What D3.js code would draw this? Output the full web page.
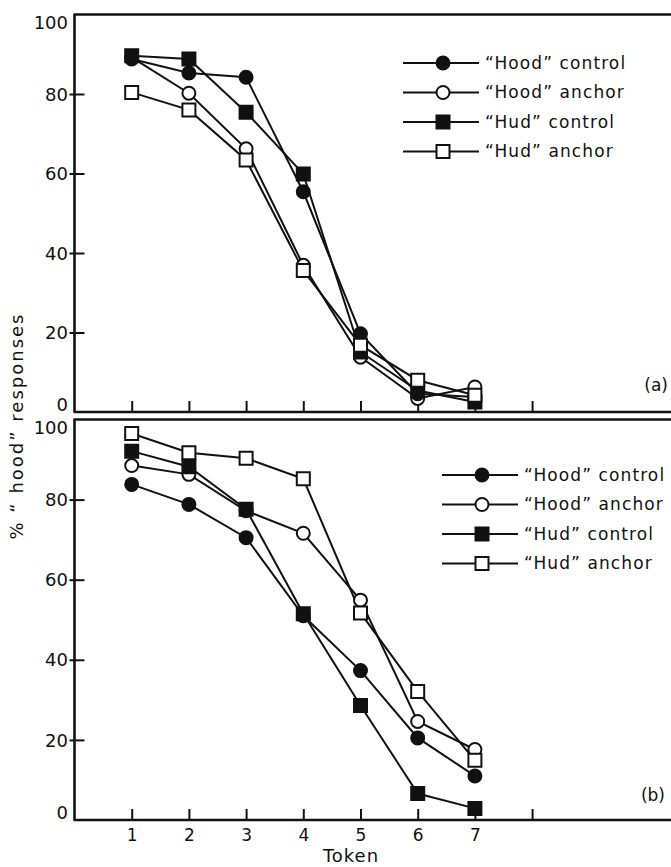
<!DOCTYPE html>
<html>
<head>
<meta charset="utf-8">
<script src="https://cdn.jsdelivr.net/npm/d3@7"></script>
<style>
  body { margin: 0; background: #fff; }
  svg { display: block; }
  text { font-family: "DejaVu Sans", sans-serif; fill: #111; }
</style>
</head>
<body>
<div id="chart"></div>
<script>

// tokens on the continuum
let tokens = [1, 2, 3, 4, 5, 6, 7];
let tickTokens = [1, 2, 3, 4, 5, 6, 7, 8];
let yTicks = [0, 20, 40, 60, 80, 100];

let seriesNames = ["\u201CHood\u201D control", "\u201CHood\u201D anchor", "\u201CHud\u201D control", "\u201CHud\u201D anchor"];
let seriesSymbols = ["circle", "circle", "square", "square"];
let seriesFilled = [true, false, true, false];

// panel (a)
let hoodControlA = [88.8, 85.3, 84.2, 55.4, 19.7, 4.6, 3.8];
let hoodAnchorA  = [89.2, 80.2, 66.2, 36.9, 13.8, 3.4, 6.3];
let hudControlA  = [89.6, 88.8, 75.4, 59.9, 15.1, 5.4, 2.5];
let hudAnchorA   = [80.4, 76.0, 63.4, 35.6, 16.8, 8.0, 4.2];

// panel (b)
let hoodControlB = [83.8, 78.8, 70.5, 51.0, 37.3, 20.5, 11.0];
let hoodAnchorB  = [88.5, 86.3, 77.2, 71.6, 54.9, 24.6, 17.6];
let hudControlB  = [92.1, 88.2, 77.6, 51.5, 28.6, 6.6, 2.9];
let hudAnchorB   = [96.5, 91.7, 90.3, 85.2, 51.7, 32.1, 14.9];

let width = 671, height = 867;

let svg = d3.select("#chart").append("svg")
  .attr("width", width)
  .attr("height", height);

let x = d3.scaleLinear().domain([0, 8]).range([74.5, 532.1]);

let panels = [
  { label: "(a)", values: [hoodControlA, hoodAnchorA, hudControlA, hudAnchorA],
    top: 14.5, bottom: 412, legendX: 443, legendY: 63, labelX: 668, labelY: 385, xLabels: false },
  { label: "(b)", values: [hoodControlB, hoodAnchorB, hudControlB, hudAnchorB],
    top: 419.5, bottom: 820, legendX: 482, legendY: 475, labelX: 665, labelY: 795, xLabels: true }
];

// draw order: open circles underneath, open squares on top
let drawOrder = [1, 0, 2, 3];

function symbolPath(i) {
  let type = seriesSymbols[i] == "circle" ? d3.symbolCircle : d3.symbolSquare;
  let size = seriesSymbols[i] == "circle" ? Math.PI * 6.5 * 6.5 : 13 * 13;
  return d3.symbol().type(type).size(size)();
}

panels.forEach(function(p) {

  let y = d3.scaleLinear().domain([0, 100]).range([p.bottom, p.top]);
  let g = svg.append("g");

  // frame: left axis, top border, bottom axis running off the right edge
  g.append("line")
    .attr("x1", x(0)).attr("x2", x(0))
    .attr("y1", y(100)).attr("y2", y(0))
    .attr("stroke", "#111").attr("stroke-width", 2.6);
  g.append("line")
    .attr("x1", x(0) - 1).attr("x2", width)
    .attr("y1", y(100)).attr("y2", y(100))
    .attr("stroke", "#111").attr("stroke-width", 2.6);
  g.append("line")
    .attr("x1", x(0) - 1).attr("x2", width)
    .attr("y1", y(0)).attr("y2", y(0))
    .attr("stroke", "#111").attr("stroke-width", 2.6);

  // y axis
  let yAxis = g.append("g")
    .attr("transform", "translate(" + x(0) + ",0)")
    .call(d3.axisLeft(y).tickValues(yTicks).tickSizeInner(5).tickSizeOuter(0).tickPadding(1.5));
  yAxis.select(".domain").remove();
  yAxis.selectAll(".tick line")
    .attr("x1", 10)
    .attr("stroke", "#111").attr("stroke-width", 2)
    .style("display", function(d) { return (d == 0 || d == 100) ? "none" : null; });
  yAxis.selectAll(".tick text")
    .style("font-size", "18px")
    .attr("font-family", null)
    .attr("dy", function(d) { return d == 0 ? "-0.1em" : d == 100 ? "0.75em" : "0.34em"; });

  // x axis, ticks pointing inward
  let xAxis = g.append("g")
    .attr("transform", "translate(0," + y(0) + ")")
    .call(d3.axisBottom(x).tickValues(tickTokens).tickSizeInner(-11).tickSizeOuter(0).tickPadding(9)
      .tickFormat(function(d) { return (p.xLabels && d <= 7) ? d : ""; }));
  xAxis.select(".domain").remove();
  xAxis.selectAll(".tick line").attr("stroke", "#111").attr("stroke-width", 2);
  xAxis.selectAll(".tick text").style("font-size", "17px").attr("font-family", null);

  // lines
  let line = d3.line()
    .x(function(d, i) { return x(tokens[i]); })
    .y(function(d) { return y(d); });

  drawOrder.forEach(function(s) {
    g.append("path")
      .datum(p.values[s])
      .attr("d", line)
      .attr("fill", "none")
      .attr("stroke", "#111")
      .attr("stroke-width", 2);
  });

  // markers
  drawOrder.forEach(function(s) {
    g.selectAll(null)
      .data(p.values[s])
      .enter()
      .append("path")
      .attr("d", symbolPath(s))
      .attr("transform", function(d, i) { return "translate(" + x(tokens[i]) + "," + y(d) + ")"; })
      .attr("fill", seriesFilled[s] ? "#111" : "#fff")
      .attr("stroke", "#111")
      .attr("stroke-width", 2);
  });

  // legend
  let leg = g.selectAll(".legendrow")
    .data(seriesNames)
    .enter()
    .append("g")
    .attr("class", "legendrow")
    .attr("transform", function(d, i) { return "translate(" + p.legendX + "," + (p.legendY + i * 29.5) + ")"; });

  leg.append("line")
    .attr("x1", -40).attr("x2", 36)
    .attr("stroke", "#111").attr("stroke-width", 2);
  leg.append("path")
    .attr("d", function(d, i) { return symbolPath(i); })
    .attr("fill", function(d, i) { return seriesFilled[i] ? "#111" : "#fff"; })
    .attr("stroke", "#111")
    .attr("stroke-width", 2);
  leg.append("text")
    .attr("x", 42)
    .attr("dy", "0.35em")
    .style("font-size", "17px")
    .style("letter-spacing", "1.1px")
    .text(function(d) { return d; });

  // panel label
  g.append("text")
    .attr("x", p.labelX)
    .attr("y", p.labelY)
    .attr("dy", "0.35em")
    .attr("text-anchor", "end")
    .style("font-size", "17px")
    .text(p.label);
});

// axis titles
svg.append("text")
  .attr("transform", "translate(21,427) rotate(-90)")
  .attr("text-anchor", "middle")
  .attr("dy", "0.1em")
  .attr("textLength", 225)
  .attr("lengthAdjust", "spacing")
  .style("font-size", "18px")
  .text("%  \u201C hood\u201D  responses");

svg.append("text")
  .attr("x", 351)
  .attr("y", 862)
  .attr("text-anchor", "middle")
  .style("font-size", "18px")
  .style("letter-spacing", "1px")
  .text("Token");

</script>
</body>
</html>
